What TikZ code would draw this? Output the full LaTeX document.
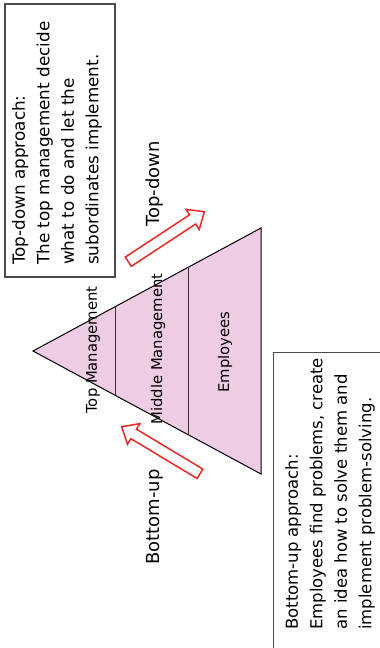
\documentclass[tikz,border=0pt]{standalone}
\usepackage{fontspec}
\setmainfont{DejaVu Sans}
\usetikzlibrary{calc}
\definecolor{pyrfill}{RGB}{238,205,228}
\definecolor{arrred}{RGB}{234,40,38}
\definecolor{boxgray}{RGB}{75,75,75}
\begin{document}
\begin{tikzpicture}[x=1pt,y=1pt,
  pyr/.style={draw=black,fill=pyrfill,line width=1pt,line join=miter},
  divider/.style={draw=black!80,line width=1pt},
  pyrlabel/.style={rotate=90,inner sep=0pt,font=\fontsize{14.8}{17}\selectfont},
  arrlabel/.style={rotate=90,inner sep=0pt,font=\fontsize{18}{21}\selectfont},
  boxframe/.style={draw=boxgray,line width=1.1pt,fill=white},
  boxtext/.style={rotate=90,inner sep=0pt,align=left,anchor=west},
  redarrow/.style={draw=arrred,fill=white,line width=1.5pt,line join=miter}]
\useasboundingbox (0,0) rectangle (380,648);
\clip (0,0) rectangle (380,648);
\fill[white] (0,0) rectangle (380,648);
% pyramid
\coordinate (apex) at (33,297);
\coordinate (tr) at (261,420);
\coordinate (br) at (261,174);
\draw[pyr] (apex) -- (tr) -- (br) -- cycle;
\draw[divider] ($(apex)!0.36!(tr)$) -- ($(apex)!0.36!(br)$);
\draw[divider] ($(apex)!0.68!(tr)$) -- ($(apex)!0.68!(br)$);
\node[pyrlabel] (topm) at (93,298) {Top Management};
\node[pyrlabel] (midm) at (158,299) {Middle Management};
\node[pyrlabel] (empl) at (225,296) {Employees};
% boxes
\node[boxframe,minimum width=110pt,minimum height=273pt] (tdbox) at (60,507.5) {};
\node[boxtext,font=\fontsize{16.8}{24.5}\selectfont] (tdtext) at (57,383)
  {Top-down approach:\\The top management decide\\what to do and let the\\subordinates implement.};
\node[boxframe,minimum width=140pt,minimum height=330pt,anchor=north west] (bubox) at (273,296) {};
\node[boxtext,font=\fontsize{16.5}{24.5}\selectfont] (butext) at (330,18)
  {Bottom-up approach:\\Employees find problems, create\\an idea how to solve them and\\implement problem-solving.};
% labels
\node[arrlabel] (tdlab) at (155,464) {Top-down};
\node[arrlabel] (bulab) at (155,131) {Bottom-up};
% arrows
\begin{scope}[shift={(128.3,386.3)},rotate=33.3]
\draw[redarrow] (0,-5.5) -- (77,-5.5) -- (77,-12) -- (91,0) -- (77,12) -- (77,5.5) -- (0,5.5) -- cycle;
\end{scope}
\begin{scope}[shift={(200,174.2)},rotate=149]
\draw[redarrow] (0,-5.5) -- (77.4,-5.5) -- (77.4,-12) -- (91.4,0) -- (77.4,12) -- (77.4,5.5) -- (0,5.5) -- cycle;
\end{scope}
\end{tikzpicture}
\end{document}
